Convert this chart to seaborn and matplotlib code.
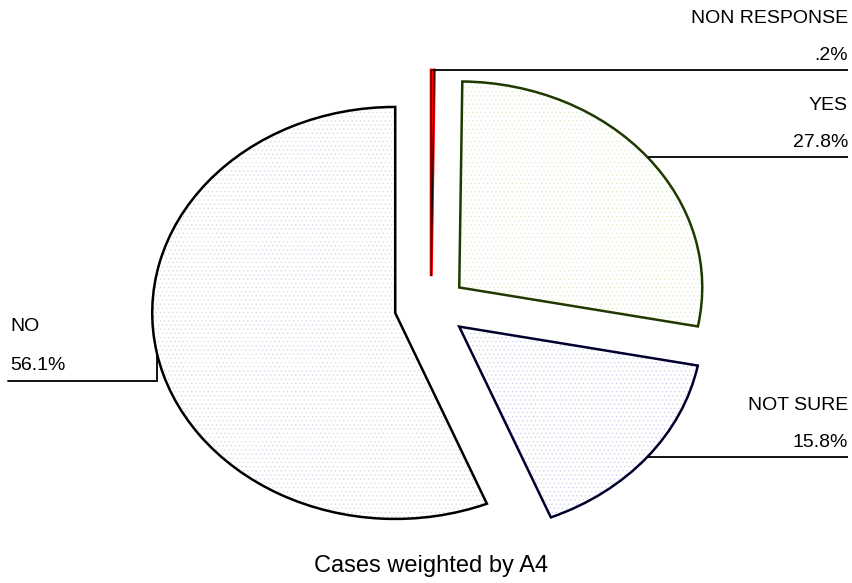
import numpy as np
import matplotlib
matplotlib.use("Agg")
import matplotlib.pyplot as plt
import seaborn as sns

sns.set_style("white")
plt.rcParams['font.family'] = ['Liberation Sans', 'DejaVu Sans']
plt.rcParams['text.color'] = 'black'

# ---- data ----
categories = ["NON RESPONSE", "YES", "NOT SURE", "NO"]
percents = [0.2, 27.8, 15.8, 56.1]
pct_labels = [".2%", "27.8%", "15.8%", "56.1%"]
caption = "Cases weighted by A4"

# ---- style ----
dot_colors = ["#ff0000", "#dcecbc", "#c8c8f2", "#ccd6e0"]
edge_colors = ["#000000", "#1f3a00", "#00002e", "#000000"]

W, H = 853, 583
RX, RY = 243.0, 206.0      # pie radii in pixels (ellipse)
CX, CY = 431.0, 307.0      # pie centre in pixels from top-left

fig = plt.figure(figsize=(W / 100, H / 100), dpi=100)
ax = fig.add_axes([0, 0, 1, 1])

explode = [0.15] * len(percents)
# fill layer (dotted pattern)
plt.rcParams['hatch.linewidth'] = 0.35
wedges_fill, _ = ax.pie(percents, explode=explode, startangle=90, counterclock=False,
                        radius=1, center=(0, 0), frame=True,
                        wedgeprops=dict(linewidth=0))
for i, w in enumerate(wedges_fill):
    if i == 0:
        w.set_facecolor("#ff0000")
        w.set_edgecolor("#ff0000")
        w.set_linewidth(2.2)
    else:
        w.set_facecolor("white")
        w.set_hatch("....")
        w.set_edgecolor(dot_colors[i])
        w.set_linewidth(0)

# outline layer
wedges, _ = ax.pie(percents, explode=explode, startangle=90, counterclock=False,
                   radius=1, center=(0, 0), frame=True,
                   wedgeprops=dict(fill=False, linewidth=1.8))
for i, w in enumerate(wedges):
    w.set_edgecolor(edge_colors[i])
wedges[0].set_linewidth(0.8)

ax.set_aspect('auto')
ax.set_xlim(-CX / RX, (W - CX) / RX)
ax.set_ylim(-(H - CY) / RY, CY / RY)
ax.axis('off')

fs = 14
x_right = (848 - CX) / RX
x_left = (8 - CX) / RX
for i, w in enumerate(wedges):
    mid = np.deg2rad((w.theta1 + w.theta2) / 2)
    cx, cy = w.center
    axp, ayp = cx + w.r * np.cos(mid), cy + w.r * np.sin(mid)
    if np.cos(mid) >= 0:
        ly = ayp
        ax.plot([axp, x_right], [ly, ly], color="black", lw=1.3, solid_capstyle="butt")
        ax.text(x_right, ly + 52 / RY, categories[i], ha="right", va="center", fontsize=fs)
        ax.text(x_right, ly + 14.5 / RY, pct_labels[i], ha="right", va="center", fontsize=fs)
    else:
        ly = ayp - 28 / RY
        ax.plot([axp, axp, x_left], [ayp, ly, ly], color="black", lw=1.3, solid_joinstyle="miter")
        ax.text(x_left + 2 / RX, ly + 54 / RY, categories[i], ha="left", va="center", fontsize=fs)
        ax.text(x_left + 2 / RX, ly + 15 / RY, pct_labels[i], ha="left", va="center", fontsize=fs)

fig.text(431.5 / W, 1 - 566 / H, caption, ha="center", va="center", fontsize=17)

fig.savefig("out.png", dpi=100)
